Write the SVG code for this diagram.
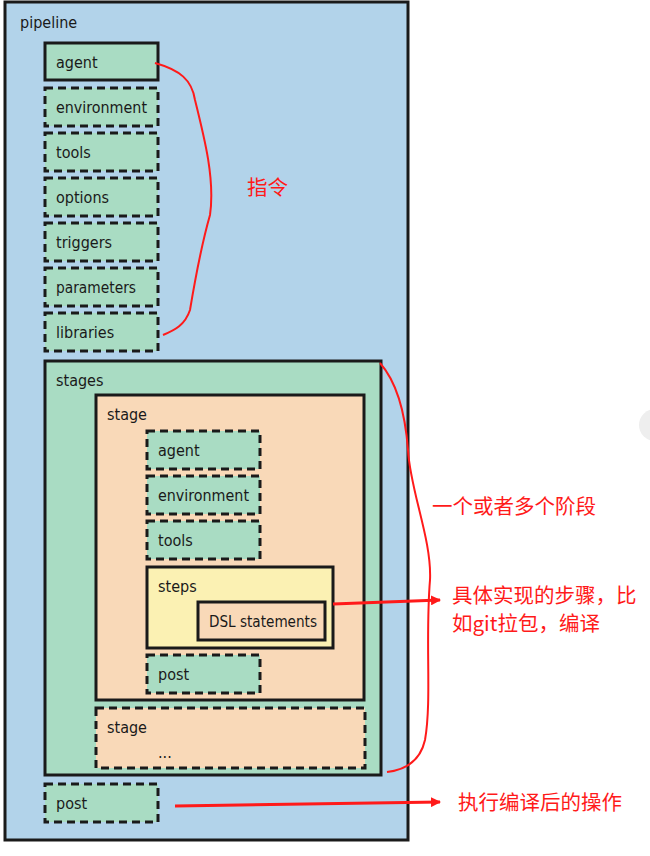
<svg xmlns="http://www.w3.org/2000/svg" width="650" height="856" viewBox="0 0 650 856">
<style>
.t{font-family:"DejaVu Sans Condensed","Liberation Sans",sans-serif;font-size:16px;fill:#1a1a1a}
.g{fill:#a9dcc3;stroke:#1a1a1a;stroke-width:3}
.d{stroke-dasharray:8,5}
.p{fill:#f9d9b8;stroke:#1a1a1a;stroke-width:3}
.r{font-family:"Noto Sans CJK SC",sans-serif;font-size:20.5px;fill:#ff1a1a}
.rl{fill:none;stroke:#ff1a1a;stroke-width:2}
</style>
<defs><marker id="ah" markerWidth="10" markerHeight="10" refX="9" refY="5" orient="auto" markerUnits="userSpaceOnUse"><path d="M0,0 L10,5 L0,10 z" fill="#ff1a1a"/></marker></defs>
<rect width="650" height="856" fill="#fff"/>
<circle cx="655" cy="425" r="16" fill="#eeeeee"/>
<g id="pipeline"><rect x="5" y="2" width="403" height="838" fill="#b2d3ea" stroke="#1a1a1a" stroke-width="3"/><text class="t" x="20" y="28">pipeline</text></g>
<g id="agent"><rect class="g" x="45" y="43" width="113" height="37"/><text class="t" x="56" y="68">agent</text></g>
<g id="environment"><rect class="g d" x="45" y="88" width="113" height="38"/><text class="t" x="56" y="113" textLength="91" lengthAdjust="spacingAndGlyphs">environment</text></g>
<g id="tools"><rect class="g d" x="45" y="133" width="113" height="38"/><text class="t" x="56" y="158">tools</text></g>
<g id="options"><rect class="g d" x="45" y="178" width="113" height="38"/><text class="t" x="56" y="203">options</text></g>
<g id="triggers"><rect class="g d" x="45" y="223" width="113" height="38"/><text class="t" x="56" y="248">triggers</text></g>
<g id="parameters"><rect class="g d" x="45" y="268" width="113" height="38"/><text class="t" x="56" y="293" textLength="80" lengthAdjust="spacingAndGlyphs">parameters</text></g>
<g id="libraries"><rect class="g d" x="45" y="313" width="113" height="38"/><text class="t" x="56" y="338">libraries</text></g>
<g id="stages"><rect class="g" x="45" y="361" width="336" height="414"/><text class="t" x="56" y="386">stages</text></g>
<g id="stage"><rect class="p" x="96" y="395" width="268" height="305"/><text class="t" x="107" y="420">stage</text></g>
<g id="stage-agent"><rect class="g d" x="147" y="431" width="113" height="38"/><text class="t" x="158" y="456">agent</text></g>
<g id="stage-environment"><rect class="g d" x="147" y="476" width="113" height="38"/><text class="t" x="158" y="501" textLength="91" lengthAdjust="spacingAndGlyphs">environment</text></g>
<g id="stage-tools"><rect class="g d" x="147" y="521" width="113" height="38"/><text class="t" x="158" y="546">tools</text></g>
<g id="steps"><rect x="147" y="567" width="186" height="81" fill="#fbf1b3" stroke="#1a1a1a" stroke-width="3"/><text class="t" x="158" y="592">steps</text></g>
<g id="dsl"><rect class="p" x="198" y="602" width="127" height="38"/><text class="t" x="209" y="627" textLength="108" lengthAdjust="spacingAndGlyphs">DSL statements</text></g>
<g id="stage-post"><rect class="g d" x="147" y="655" width="113" height="38"/><text class="t" x="158" y="680">post</text></g>
<g id="stage2"><rect class="p d" x="96" y="708" width="269" height="60"/><text class="t" x="107" y="733">stage</text><text class="t" x="158" y="758">...</text></g>
<g id="post"><rect class="g d" x="45" y="784" width="113" height="38"/><text class="t" x="56" y="809">post</text></g>
<g id="connectors">
<path class="rl" d="M155,63 C180,70 192,80 195,100 C205,140 215,180 210,215 C200,250 195,280 190,310 C185,325 175,330 163,335"/>
<path class="rl" d="M380,363 C395,380 405,410 408,450 C410,490 432,540 430,580 C425,640 432,700 425,740 C420,762 405,770 387,772"/>
<path d="M333,604 L440,600" stroke="#ff1a1a" stroke-width="3" fill="none" marker-end="url(#ah)"/>
<path d="M175,806 L440,802" stroke="#ff1a1a" stroke-width="3" fill="none" marker-end="url(#ah)"/>
</g>
<g id="labels">
<text class="r" x="247" y="195">指令</text>
<text class="r" x="432" y="514">一个或者多个阶段</text>
<text class="r" x="452" y="603">具体实现的步骤，比</text>
<text class="r" x="452" y="631">如git拉包，编译</text>
<text class="r" x="458" y="810">执行编译后的操作</text>
</g>
</svg>
